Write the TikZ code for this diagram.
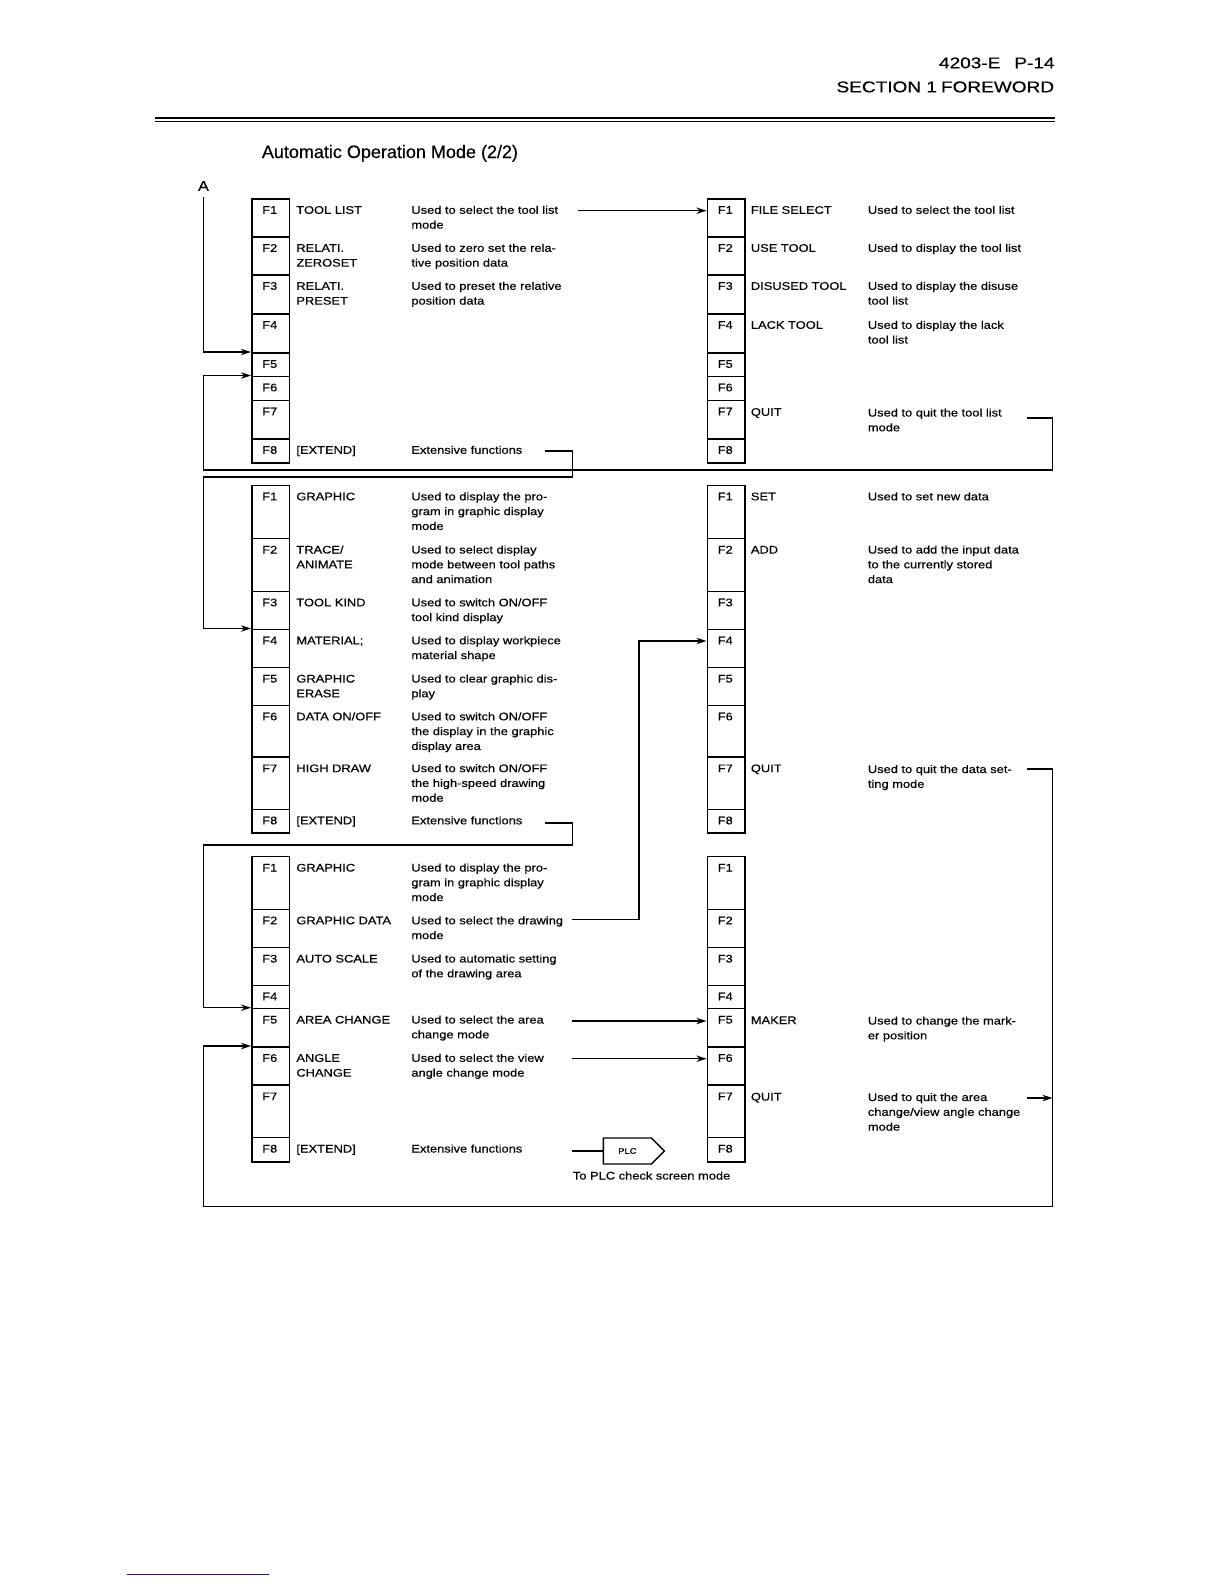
\documentclass[tikz,border=0pt]{standalone}
\usepackage{fontspec}
\setmainfont{Liberation Sans}
\newfontfamily\wf[FakeStretch=1.17,FakeBold=0.35]{Liberation Sans}
\newfontfamily\hf[FakeStretch=1.22,FakeBold=0.3]{Liberation Sans}
\newfontfamily\tf[FakeBold=0.3]{Liberation Sans}
\usetikzlibrary{arrows.meta,shapes.symbols}
\definecolor{fblue}{RGB}{25,25,140}
\newcommand\smallf{\wf\fontsize{5.5}{7.4}\selectfont}
\newcommand\ml[1]{\begin{tabular}[t]{@{}l@{}}#1\end{tabular}}
\tikzset{
  cell/.style={draw, line width=0.75pt, minimum width=18.75pt, inner sep=0pt, anchor=north west},
  flab/.style={anchor=base, inner sep=0pt, font=\smallf},
  txt/.style={anchor=base west, inner sep=0pt, font=\smallf},
  conn/.style={line width=0.65pt},
  tip/.style={-{Stealth[length=5pt,width=3.2pt]}}
}
\newcommand\fcol[3]{\foreach \i/\t/\b in {#3}{%
  \node[cell, minimum height={(\b-\t)*0.5pt}] (#1F\i) at (#2,\t) {};
  \node[flab] (#1L\i) at ({#2+18.75},{\t+15.8}) {F\i};}}
\newcommand\tx[4]{\node[txt] (#1) at (#2,#3) {\ml{#4}};}
\begin{document}
\begin{tikzpicture}[x=0.5pt,y=-0.5pt]
\useasboundingbox (0,0) rectangle (1224,1584);
% header
\node[anchor=base east, inner sep=0pt, font=\hf\fontsize{7.8}{9}\selectfont] (hdr1) at (1055,68.3) {4203-E\hspace{7pt}P-14};
\node[anchor=base east, inner sep=0pt, font=\hf\fontsize{7.8}{9}\selectfont] (hdr2) at (1054.5,92.3) {SECTION 1\hspace{2pt}FOREWORD};
\draw[line width=0.6pt] (155,118) -- (1055,118);
\draw[line width=0.9pt] (155,121.5) -- (1055,121.5);
\node[anchor=base west, inner sep=0pt, font=\tf\fontsize{9}{11}\selectfont] (title) at (261.5,158) {Automatic Operation Mode (2/2)};
\node[inner sep=0pt, font=\wf\fontsize{7}{8}\selectfont] (A) at (203.5,186) {A};

% columns
\fcol{La}{251}{1/198/236,2/236/274,3/274/313,4/313/352,5/352/375.5,6/375.5/399.5,7/399.5/438,8/438/462}
\fcol{Ra}{706.5}{1/198/236,2/236/274,3/274/313,4/313/352,5/352/375.5,6/375.5/399.5,7/399.5/438,8/438/462}
\fcol{Lb}{251}{1/484.5/537.7,2/537.7/590.5,3/590.5/628.5,4/628.5/666.7,5/666.7/704.5,6/704.5/756.3,7/756.3/808.5,8/808.5/832}
\fcol{Rb}{706.5}{1/484.5/537.7,2/537.7/590.5,3/590.5/628.5,4/628.5/666.7,5/666.7/704.5,6/704.5/756.3,7/756.3/808.5,8/808.5/832}
\fcol{Lc}{251}{1/855.7/908.5,2/908.5/946.7,3/946.7/984.5,4/984.5/1007.7,5/1007.7/1046,6/1046/1084.3,7/1084.3/1136.7,8/1136.7/1161.3}
\fcol{Rc}{706.5}{1/855.7/908.5,2/908.5/946.7,3/946.7/984.5,4/984.5/1007.7,5/1007.7/1046,6/1046/1084.3,7/1084.3/1136.7,8/1136.7/1161.3}

% block 1 texts
\tx{LaN1}{296}{213.8}{TOOL LIST}
\tx{LaD1}{411}{213.8}{Used to select the tool list\\mode}
\tx{LaN2}{296}{251.8}{RELATI.\\ZEROSET}
\tx{LaD2}{411}{251.8}{Used to zero set the rela-\\tive position data}
\tx{LaN3}{296}{289.8}{RELATI.\\PRESET}
\tx{LaD3}{411}{289.8}{Used to preset the relative\\position data}
\tx{LaN8}{296}{453.8}{[EXTEND]}
\tx{LaD8}{411}{453.8}{Extensive functions}
\tx{RaN1}{750.5}{213.8}{FILE SELECT}
\tx{RaD1}{867.5}{213.8}{Used to select the tool list}
\tx{RaN2}{750.5}{251.8}{USE TOOL}
\tx{RaD2}{867.5}{251.8}{Used to display the tool list}
\tx{RaN3}{750.5}{289.8}{DISUSED TOOL}
\tx{RaD3}{867.5}{289.8}{Used to display the disuse\\tool list}
\tx{RaN4}{750.5}{328.8}{LACK TOOL}
\tx{RaD4}{867.5}{328.8}{Used to display the lack\\tool list}
\tx{RaN7}{750.5}{415.8}{QUIT}
\tx{RaD7}{867.5}{416.5}{Used to quit the tool list\\mode}

% block 2 texts
\tx{LbN1}{296}{500.3}{GRAPHIC}
\tx{LbD1}{411}{500.3}{Used to display the pro-\\gram in graphic display\\mode}
\tx{LbN2}{296}{553.5}{TRACE/\\ANIMATE}
\tx{LbD2}{411}{553.5}{Used to select display\\mode between tool paths\\and animation}
\tx{LbN3}{296}{606.3}{TOOL KIND}
\tx{LbD3}{411}{606.3}{Used to switch ON/OFF\\tool kind display}
\tx{LbN4}{296}{644.3}{MATERIAL;}
\tx{LbD4}{411}{644.3}{Used to display workpiece\\material shape}
\tx{LbN5}{296}{682.5}{GRAPHIC\\ERASE}
\tx{LbD5}{411}{682.5}{Used to clear graphic dis-\\play}
\tx{LbN6}{296}{720.3}{DATA ON/OFF}
\tx{LbD6}{411}{720.3}{Used to switch ON/OFF\\the display in the graphic\\display area}
\tx{LbN7}{296}{772.1}{HIGH DRAW}
\tx{LbD7}{411}{772.1}{Used to switch ON/OFF\\the high-speed drawing\\mode}
\tx{LbN8}{296}{824.3}{[EXTEND]}
\tx{LbD8}{411}{824.3}{Extensive functions}
\tx{RbN1}{750.5}{500.3}{SET}
\tx{RbD1}{867.5}{500.3}{Used to set new data}
\tx{RbN2}{750.5}{553.5}{ADD}
\tx{RbD2}{867.5}{553.5}{Used to add the input data\\to the currently stored\\data}
\tx{RbN7}{750.5}{772.1}{QUIT}
\tx{RbD7}{867.5}{773}{Used to quit the data set-\\ting mode}

% block 3 texts
\tx{LcN1}{296}{871.5}{GRAPHIC}
\tx{LcD1}{411}{871.5}{Used to display the pro-\\gram in graphic display\\mode}
\tx{LcN2}{296}{924.3}{GRAPHIC DATA}
\tx{LcD2}{411}{924.3}{Used to select the drawing\\mode}
\tx{LcN3}{296}{962.5}{AUTO SCALE}
\tx{LcD3}{411}{962.5}{Used to automatic setting\\of the drawing area}
\tx{LcN5}{296}{1023.5}{AREA CHANGE}
\tx{LcD5}{411}{1023.5}{Used to select the area\\change mode}
\tx{LcN6}{296}{1061.8}{ANGLE\\CHANGE}
\tx{LcD6}{411}{1061.8}{Used to select the view\\angle change mode}
\tx{LcN8}{296}{1152.5}{[EXTEND]}
\tx{LcD8}{411}{1152.5}{Extensive functions}
\tx{RcN5}{750.5}{1024}{MAKER}
\tx{RcD5}{867.5}{1024.5}{Used to change the mark-\\er position}
\tx{RcN7}{750.5}{1100.5}{QUIT}
\tx{RcD7}{867.5}{1101}{Used to quit the area\\change/view angle change\\mode}

% PLC
\node[signal, draw, line width=0.65pt, minimum width=30.5pt, minimum height=13pt, inner sep=0pt, anchor=west, font=\wf\fontsize{4}{5}\selectfont] (plc) at (602.7,1151) {PLC};
\tx{plccap}{572.5}{1179.5}{To PLC check screen mode}

% connectors
\coordinate (t1) at (578,210.7);
\draw[conn,tip] (t1) -- (t1 -| RaF1.west);
\draw[conn,tip,shorten <=3pt] (A.south) |- (LaF5.north west);
\coordinate (q1) at (1027,418);
\draw[conn,tip] (q1) -- (1052.5,418) -- (1052.5,470) -- (203.5,470) |- (LaF6.north west);
\coordinate (e1) at (545,451);
\draw[conn,tip] (e1) -- (572.5,451) -- (572.5,477) -- (203.5,477) |- (LbF4.north west);
\coordinate (e2) at (545,823);
\draw[conn,tip] (e2) -- (572.5,823) -- (572.5,845) -- (203.5,845) |- (LcF5.north west);
\coordinate (q2) at (1027,769);
\draw[conn,tip] (q2) -- (1052.5,769) -- (1052.5,1206.5) -- (203.5,1206.5) |- (LcF6.north west);
\coordinate (gd) at (571.7,919.3);
\coordinate (g2) at (639,641);
\draw[conn,tip] (gd) -| (g2) -- (g2 -| RbF4.west);
\coordinate (a3) at (571.7,1021);
\draw[conn,tip] (a3) -- (a3 -| RcF5.west);
\coordinate (v3) at (571.7,1058.7);
\draw[conn,tip] (v3) -- (v3 -| RcF6.west);
\coordinate (q3) at (1027,1098);
\coordinate (q3r) at (1052.5,1098);
\draw[conn,tip] (q3) -- (q3r);
\coordinate (p3) at (571.7,1151);
\draw[conn] (p3) -- (plc.west);

% footer rule
\draw[fblue, line width=0.8pt] (126.7,1574.3) -- (269,1574.3);
\end{tikzpicture}
\end{document}
